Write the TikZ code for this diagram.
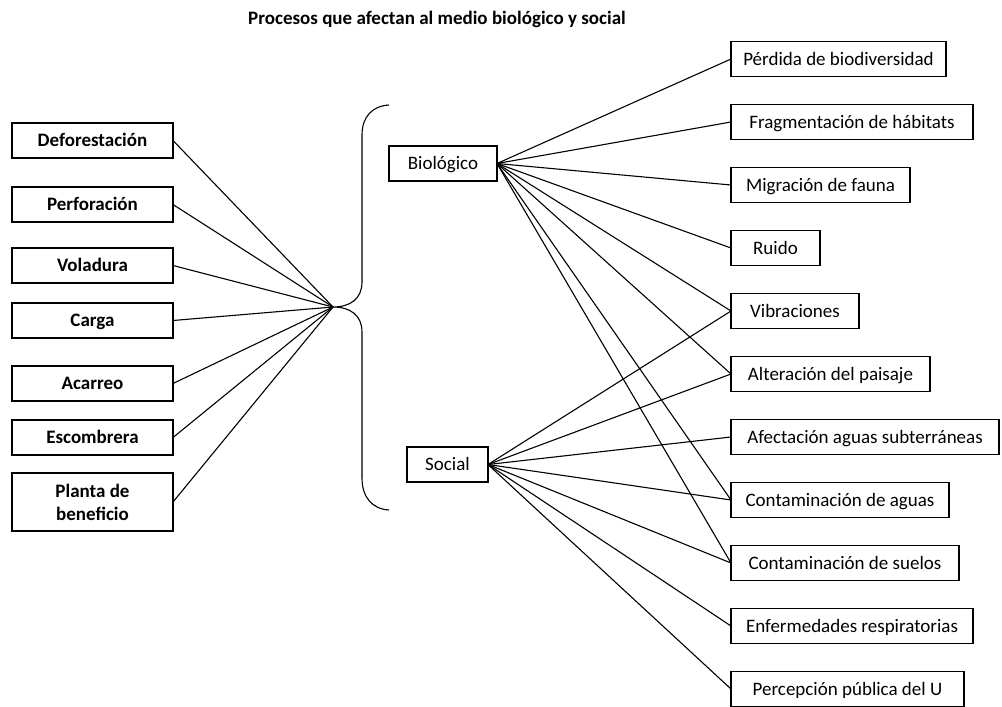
\documentclass[tikz,border=0pt]{standalone}
\usepackage{fontspec}
\setmainfont{Carlito}
\usepackage{xcolor}
\usepackage{tikz}
\usetikzlibrary{shapes,arrows,positioning}

\newcommand{\txt}{\fontsize{19}{23}\selectfont}

\begin{document}
\begin{tikzpicture}[x=1pt, y=-1pt, node distance=28pt, font=\txt]
    \tikzstyle{proc} = [rectangle, draw=black, line width=1.4pt, outer sep=0pt, minimum width=161pt, minimum height=35pt, text height=15pt, text depth=3pt, text centered, font=\txt\bfseries]
    \tikzstyle{medio} = [rectangle, draw=black, line width=1.4pt, outer sep=0pt, minimum height=35pt, text height=15pt, text depth=3pt, text centered]
    \tikzstyle{efecto} = [rectangle, draw=black, line width=1.4pt, outer sep=0pt, minimum height=35pt, text height=15pt, text depth=3pt, anchor=west, text centered]
    \tikzstyle{link} = [line width=1.1pt]

    \useasboundingbox (0,0) rectangle (1002,707);

    \node[font=\txt\bfseries] (title) at (437,19) {Procesos que afectan al medio biológico y social};

    % procesos
    \node[proc] (defor) at (92.5,140.5) {Deforestación};
    \node[proc, below=29pt of defor] (perfor) {Perforación};
    \node[proc, below=26pt of perfor] (volad) {Voladura};
    \node[proc, below=20pt of volad] (carga) {Carga};
    \node[proc, below=28pt of carga] (acarreo) {Acarreo};
    \node[proc, below=19pt of acarreo] (escomb) {Escombrera};
    \node[proc, below=18pt of escomb, minimum height=58pt, text height={}, text depth={}, align=center] (planta) {Planta de\\beneficio};

    % llave
    \coordinate (tip) at (333,307);
    \draw[link] (389,105) .. controls (372,106) and (362,117) .. (362,135) -- (362,282)
        .. controls (362,299) and (350,307) .. (tip)
        .. controls (350,307) and (362,315) .. (362,332) -- (362,478)
        .. controls (362,497) and (372,509) .. (389,510);

    % medios
    \node[medio, minimum width=108pt] (bio) at (443,163.5) {Biológico};
    \node[medio, minimum width=81pt] (social) at (447.5,464.5) {Social};

    % efectos
    \node[efecto, minimum width=215pt] (perdida) at (731,59) {Pérdida de biodiversidad};
    \node[efecto, minimum width=242pt, below=of perdida.south west, anchor=north west] (fragm) {Fragmentación de hábitats};
    \node[efecto, minimum width=179pt, below=of fragm.south west, anchor=north west] (migra) {Migración de fauna};
    \node[efecto, minimum width=89pt, below=of migra.south west, anchor=north west] (ruido) {Ruido};
    \node[efecto, minimum width=128pt, below=of ruido.south west, anchor=north west] (vibra) {Vibraciones};
    \node[efecto, minimum width=199pt, below=of vibra.south west, anchor=north west] (paisaje) {Alteración del paisaje};
    \node[efecto, minimum width=268pt, below=of paisaje.south west, anchor=north west] (subter) {Afectación aguas subterráneas};
    \node[efecto, minimum width=218pt, below=of subter.south west, anchor=north west] (aguas) {Contaminación de aguas};
    \node[efecto, minimum width=228pt, below=of aguas.south west, anchor=north west] (suelos) {Contaminación de suelos};
    \node[efecto, minimum width=242pt, below=of suelos.south west, anchor=north west] (enferm) {Enfermedades respiratorias};
    \node[efecto, minimum width=233pt, below=of enferm.south west, anchor=north west] (percep) {Percepción pública del U};

    \draw[link] (defor.east) -- (tip);
    \draw[link] (perfor.east) -- (tip);
    \draw[link] (volad.east) -- (tip);
    \draw[link] (carga.east) -- (tip);
    \draw[link] (acarreo.east) -- (tip);
    \draw[link] (escomb.east) -- (tip);
    \draw[link] (planta.east) -- (tip);

    \draw[link] (bio.east) -- (perdida.west);
    \draw[link] (bio.east) -- (fragm.west);
    \draw[link] (bio.east) -- (migra.west);
    \draw[link] (bio.east) -- (ruido.west);
    \draw[link] (bio.east) -- (vibra.west);
    \draw[link] (bio.east) -- (paisaje.west);
    \draw[link] (bio.east) -- (aguas.west);
    \draw[link] (bio.east) -- (suelos.west);

    \draw[link] (social.east) -- (vibra.west);
    \draw[link] (social.east) -- (paisaje.west);
    \draw[link] (social.east) -- (subter.west);
    \draw[link] (social.east) -- (aguas.west);
    \draw[link] (social.east) -- (suelos.west);
    \draw[link] (social.east) -- (enferm.west);
    \draw[link] (social.east) -- (percep.west);
\end{tikzpicture}
\end{document}
